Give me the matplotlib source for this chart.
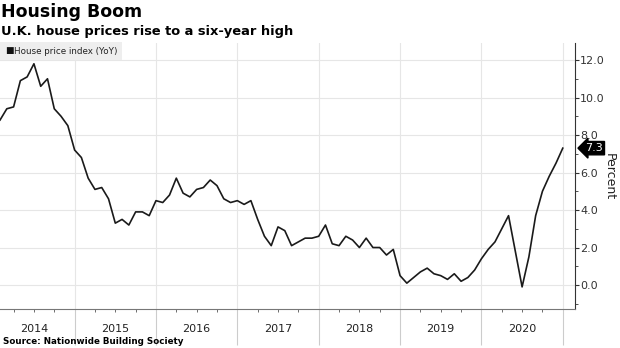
import matplotlib.pyplot as plt
import matplotlib.transforms as mtransforms
import numpy as np

# Nationwide house price index, annual % change, month by month Jan 2014 - Dec 2020
years = [2014, 2015, 2016, 2017, 2018, 2019, 2020]
hpi_2014 = [8.8, 9.4, 9.5, 10.9, 11.1, 11.8, 10.6, 11.0, 9.4, 9.0, 8.5, 7.2]
hpi_2015 = [6.8, 5.7, 5.1, 5.2, 4.6, 3.3, 3.5, 3.2, 3.9, 3.9, 3.7, 4.5]
hpi_2016 = [4.4, 4.8, 5.7, 4.9, 4.7, 5.1, 5.2, 5.6, 5.3, 4.6, 4.4, 4.5]
hpi_2017 = [4.3, 4.5, 3.5, 2.6, 2.1, 3.1, 2.9, 2.1, 2.3, 2.5, 2.5, 2.6]
hpi_2018 = [3.2, 2.2, 2.1, 2.6, 2.4, 2.0, 2.5, 2.0, 2.0, 1.6, 1.9, 0.5]
hpi_2019 = [0.1, 0.4, 0.7, 0.9, 0.6, 0.5, 0.3, 0.6, 0.2, 0.4, 0.8, 1.4]
hpi_2020 = [1.9, 2.3, 3.0, 3.7, 1.8, -0.1, 1.5, 3.7, 5.0, 5.8, 6.5, 7.3]
yticks = [0.0, 2.0, 4.0, 6.0, 8.0, 10.0, 12.0]

values = np.array(hpi_2014 + hpi_2015 + hpi_2016 + hpi_2017 + hpi_2018 + hpi_2019 + hpi_2020)
# month-end positions as fractional years
x = np.array([y + m / 12 for y in years for m in range(1, 13)])

fig = plt.figure(figsize=(6.2, 3.48), dpi=100)
ax = fig.add_axes([0.0, 0.112, 0.927, 0.764])

ax.plot(x, values, color="#1a1a1a", linewidth=1.2, zorder=3)

ax.set_xlim(2014.083, 2021.147)
ax.set_ylim(-1.28, 12.9)

# right side y axis
ax.yaxis.tick_right()
ax.yaxis.set_label_position("right")
ax.set_yticks(yticks)
ax.set_yticklabels(["%.1f" % v for v in yticks])
ax.set_yticks(np.arange(-1, 13, 1.0), minor=True)
ax.tick_params(axis="y", which="major", length=3, width=0.8, colors="#333333",
               labelsize=8, pad=1.0)
ax.tick_params(axis="y", which="minor", length=2, width=0.6, colors="#333333")
ax.set_ylabel("Percent", rotation=270, fontsize=9, color="#222222", labelpad=8)

# x axis: long separators at year boundaries, short quarterly ticks
ax.set_xticks(list(range(2015, 2022)))
ax.set_xticklabels([])
ax.set_xticks(np.arange(2014.25, 2021.1, 0.25), minor=True)
ax.tick_params(axis="x", which="major", length=26, width=0.8, colors="#cccccc")
ax.tick_params(axis="x", which="minor", length=2.5, width=0.6, colors="#555555")
trans = mtransforms.blended_transform_factory(ax.transData, ax.transAxes)
for y in years:
    ax.text(y + 0.5, -0.075, str(y), transform=trans, ha="center", va="center",
            fontsize=8, color="#222222")

ax.grid(True, which="major", color="#e6e6e6", linewidth=0.8)
for side in ["top", "left"]:
    ax.spines[side].set_visible(False)
ax.spines["right"].set_color("#333333")
ax.spines["right"].set_linewidth(0.8)
ax.spines["bottom"].set_color("#777777")
ax.spines["bottom"].set_linewidth(0.8)

# last value tag
ytrans = mtransforms.blended_transform_factory(ax.transAxes, ax.transData)
ax.text(1.018, values[-1], "%.1f" % values[-1], transform=ytrans, ha="left", va="center",
        fontsize=8, color="white", clip_on=False,
        bbox=dict(boxstyle="larrow,pad=0.15", facecolor="black", edgecolor="black"))

# legend box
fig.patches.append(plt.Rectangle((0, 1 - 60 / 348), 122 / 620, 18 / 348,
                                 transform=fig.transFigure, facecolor="#eeeeee",
                                 edgecolor="none", zorder=5))
fig.text(5 / 620, 1 - 51 / 348, "\u25a0", fontsize=6.5, color="#111111", va="center", zorder=6)
fig.text(14 / 620, 1 - 51 / 348, "House price index (YoY)", fontsize=6.3, color="#222222",
         va="center", zorder=6)

fig.text(0.002, 1 - 12 / 348, "Housing Boom", fontsize=12.5, fontweight="bold", va="center",
         color="black")
fig.text(0.002, 1 - 31 / 348, "U.K. house prices rise to a six-year high", fontsize=9.4,
         fontweight="bold", va="center", color="black")
fig.text(0.005, 1 - 342 / 348, "Source: Nationwide Building Society", fontsize=6.3,
         fontweight="bold", va="center", color="black")

fig.savefig("out.png", dpi=100)
